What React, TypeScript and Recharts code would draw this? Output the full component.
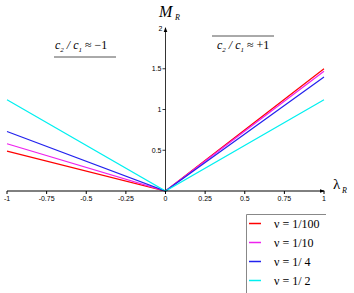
import React from 'react';
import { LineChart, Line, XAxis, YAxis, ReferenceLine, ReferenceDot } from 'recharts';

// lambda_R positions where each curve is sampled
const lambdaPoints = [-1, 0, 1];
const xTicks = [-1, -0.75, -0.5, -0.25, 0, 0.25, 0.5, 0.75, 1];
const yTicks = [0.5, 1, 1.5];

const seriesKeys = ['nu100', 'nu10', 'nu4', 'nu2'];
const seriesLabels = ['ν = 1/100', 'ν = 1/10', 'ν = 1/ 4', 'ν = 1/ 2'];
const seriesColors = ['#ff0000', '#ee22ee', '#2222ee', '#00f0f0'];
// M_R at lambda = -1, 0, +1
const valuesAtMinus = [0.49, 0.58, 0.73, 1.12];
const valuesAtZero = [0, 0, 0, 0];
const valuesAtPlus = [1.5, 1.47, 1.4, 1.12];

const columns = [valuesAtMinus, valuesAtZero, valuesAtPlus];
const data = lambdaPoints.map((x, i) => {
  const row: Record<string, number> = { x };
  seriesKeys.forEach((k, s) => {
    row[k] = columns[i][s];
  });
  return row;
});

const tickFont = { fontFamily: 'Liberation Sans, Arial, sans-serif', fontSize: 7, fill: '#000' };
const serif = 'Liberation Serif, Times New Roman, serif';

const YTickShape = (label: string) => (props: any) => {
  const { cx, cy } = props;
  return (
    <g>
      <line x1={cx - 3} y1={cy} x2={cx} y2={cy} stroke="#000" strokeWidth={0.8} />
      <text x={cx - 4} y={cy + 2.5} textAnchor="end" {...tickFont}>{label}</text>
    </g>
  );
};

const UpArrow = (props: any) => {
  const { cx, cy } = props;
  return (
    <g>
      <path d={`M${cx - 1.8},${cy + 4} L${cx},${cy - 1} L${cx + 1.8},${cy + 4} Z`} fill="#000" />
      <text x={cx - 3} y={cy + 3} textAnchor="end" {...tickFont}>2</text>
    </g>
  );
};

const RightArrow = (props: any) => {
  const { cx, cy } = props;
  return <path d={`M${cx - 4},${cy - 1.8} L${cx + 1},${cy} L${cx - 4},${cy + 1.8} Z`} fill="#000" />;
};

const App: React.FC = () => {
  return (
    <div style={{ position: 'absolute', left: 0, top: 0, width: 354, height: 293, overflow: 'hidden', background: '#fff' }}>
      <LineChart width={354} height={293} data={data} margin={{ top: 28, right: 30, bottom: 82, left: 7 }}>
        <XAxis
          dataKey="x"
          type="number"
          domain={[-1, 1]}
          ticks={xTicks}
          interval={0}
          height={20}
          tickSize={3}
          tick={tickFont}
          tickLine={{ stroke: '#000' }}
          axisLine={{ stroke: '#000' }}
        />
        <YAxis type="number" domain={[0, 2]} hide />
        <ReferenceLine x={0} stroke="#000" strokeWidth={0.8} />
        {yTicks.map((v) => (
          <ReferenceDot key={v} x={0} y={v} shape={YTickShape(String(v))} />
        ))}
        <ReferenceDot x={0} y={2} shape={UpArrow} />
        <ReferenceDot x={1} y={0} shape={RightArrow} />
        {seriesKeys.map((k, i) => (
          <Line
            key={k}
            dataKey={k}
            type="linear"
            stroke={seriesColors[i]}
            strokeWidth={1.2}
            dot={false}
            isAnimationActive={false}
          />
        ))}
      </LineChart>

      <svg width={354} height={293} style={{ position: 'absolute', left: 0, top: 0, pointerEvents: 'none' }}>
        <text x={159} y={17} fontFamily={serif} fontStyle="italic" fontSize={16}>M</text>
        <text x={175} y={20} fontFamily={serif} fontStyle="italic" fontSize={8}>R</text>

        <text x={333} y={189} fontFamily={serif} fontSize={15}>λ</text>
        <text x={342} y={193} fontFamily={serif} fontStyle="italic" fontSize={8}>R</text>

        <text x={55} y={49} fontFamily={serif} fontStyle="italic" fontSize={12}>
          c<tspan fontSize={7} dy={3}>2</tspan>
          <tspan dy={-3}> / c</tspan>
          <tspan fontSize={7} dy={3}>1</tspan>
          <tspan dy={-3} fontStyle="normal"> ≈ −1</tspan>
        </text>
        <line x1={54} y1={57} x2={116} y2={57} stroke="#555" strokeWidth={1} />

        <text x={217} y={49} fontFamily={serif} fontStyle="italic" fontSize={12}>
          c<tspan fontSize={7} dy={3}>2</tspan>
          <tspan dy={-3}> / c</tspan>
          <tspan fontSize={7} dy={3}>1</tspan>
          <tspan dy={-3} fontStyle="normal"> ≈ +1</tspan>
        </text>
        <line x1={212} y1={36} x2={274} y2={36} stroke="#555" strokeWidth={1} />

        <line x1={246.5} y1={214.5} x2={326} y2={214.5} stroke="#888" strokeWidth={1} />
        <line x1={246.5} y1={214.5} x2={246.5} y2={293} stroke="#888" strokeWidth={1} />
        {seriesLabels.map((label, i) => (
          <g key={label}>
            <line x1={249} y1={223.5 + i * 19} x2={261} y2={223.5 + i * 19} stroke={seriesColors[i]} strokeWidth={1.5} />
            <text x={274} y={227.5 + i * 19} fontFamily={serif} fontSize={12}>{label}</text>
          </g>
        ))}
      </svg>
    </div>
  );
};

export default App;
